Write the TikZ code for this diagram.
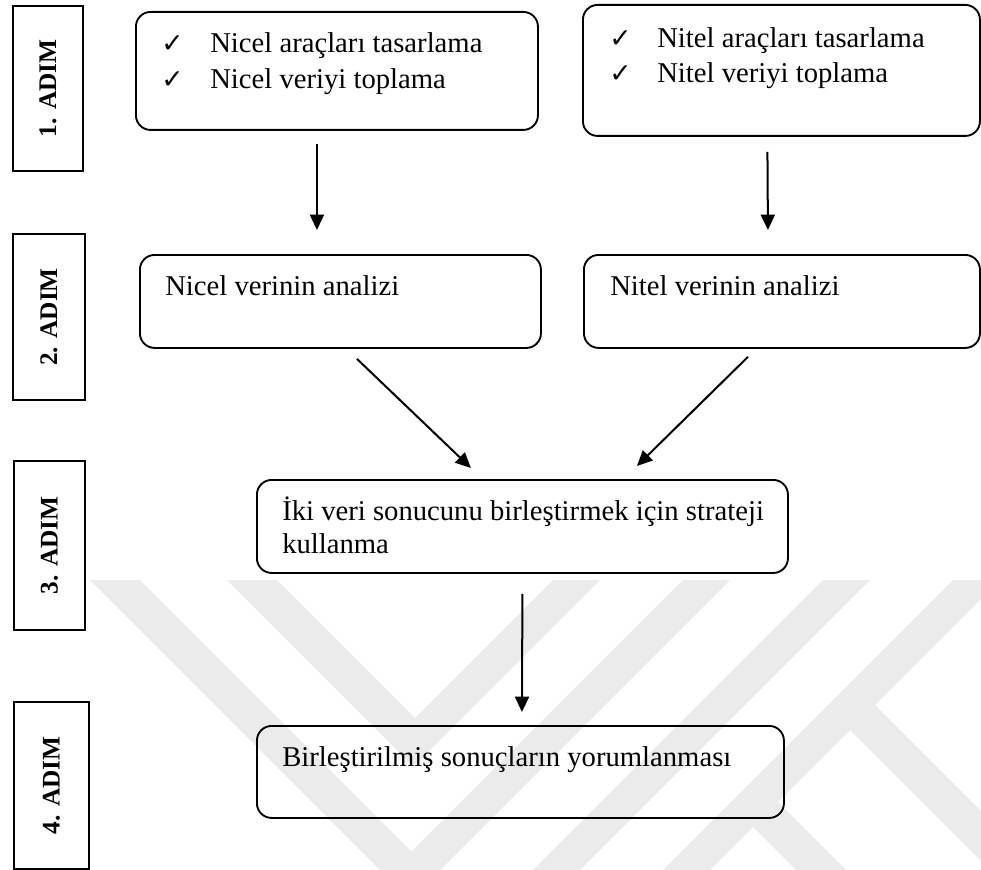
\documentclass[tikz,border=0pt]{standalone}
\usepackage{fontspec}
\setmainfont{Liberation Serif}
\newfontfamily\symfont{DejaVu Sans}
\usetikzlibrary{arrows.meta,calc}
\begin{document}
\begin{tikzpicture}[x=0.75pt,y=-0.75pt,
  box/.style={draw, line width=1.4pt, rounded corners=11pt, anchor=north west, inner sep=0pt},
  stepbox/.style={draw, line width=1.5pt, anchor=north west, inner sep=0pt},
  steplabel/.style={rotate=90, font=\fontsize{19}{21}\selectfont\bfseries, inner sep=0pt},
  txt/.style={anchor=base west, inner sep=0pt, font=\fontsize{21.5}{26}\selectfont},
  chk/.style={anchor=base west, inner sep=0pt, font=\symfont\fontsize{20}{22}\selectfont},
  arr/.style={line width=1.5pt, -{Triangle[length=11.5pt,width=10.5pt]}},
  wm/.style={fill=black!8, draw=none}]
\useasboundingbox (0,0) rectangle (981,870);
% watermark
\begin{scope}
  \clip (0,0) rectangle (981,870);
  \fill[wm] (90,580) -- (140,580) -- (411.5,851.5) -- (683,580) -- (730,580) -- (410,900) -- cycle;
  \fill[wm] (227,580) -- (277,580) -- (415,718) -- (553,580) -- (600,580) -- (413.5,766.5) -- cycle;
  \fill[wm] (823,580) -- (870,580) -- (470,980) -- (423,980) -- cycle;
  \fill[wm] (953,580) -- (1000,580) -- (600,980) -- (553,980) -- cycle;
  \fill[wm] (875,705) -- (850,730) -- (1100,980) -- (1150,980) -- cycle;
  \fill[wm] (778,802) -- (753,827) -- (906,980) -- (956,980) -- cycle;
\end{scope}
% step boxes
\node[stepbox, minimum width=52.5pt, minimum height=123.75pt] (s1) at (12,5) {};
\node[stepbox, minimum width=54pt, minimum height=124.5pt] (s2) at (12,233) {};
\node[stepbox, minimum width=53.25pt, minimum height=126.75pt] (s3) at (13,460) {};
\node[stepbox, minimum width=56.25pt, minimum height=125.25pt] (s4) at (13,701) {};
\node[steplabel] (l1) at (s1.center) {1. ADIM};
\node[steplabel] (l2) at (s2.center) {2. ADIM};
\node[steplabel] (l3) at (s3.center) {3. ADIM};
\node[steplabel] (l4) at (s4.center) {4. ADIM};
% main boxes
\node[box, minimum width=301.5pt, minimum height=88.5pt] (A) at (135,11) {};
\node[box, minimum width=297.75pt, minimum height=98.25pt] (B) at (582,4) {};
\node[box, minimum width=300.75pt, minimum height=69.75pt] (C) at (139,254) {};
\node[box, minimum width=297pt, minimum height=69.75pt] (D) at (583,254) {};
\node[box, minimum width=398.25pt, minimum height=69.75pt] (E) at (256,479) {};
\node[box, minimum width=395.25pt, minimum height=69pt] (F) at (256,725) {};
% texts
\node[chk] (ca1) at (161,53) {✓};
\node[txt] (ta1) at (210,53) {Nicel araçları tasarlama};
\node[chk] (ca2) at (161,89) {✓};
\node[txt] (ta2) at (210,89) {Nicel veriyi toplama};
\node[chk] (cb1) at (609,48) {✓};
\node[txt] (tb1) at (657,48) {Nitel araçları tasarlama};
\node[chk] (cb2) at (609,83) {✓};
\node[txt] (tb2) at (657,83) {Nitel veriyi toplama};
\node[txt] (tc) at (165,295) {Nicel verinin analizi};
\node[txt] (td) at (610,295) {Nitel verinin analizi};
\node[txt] (te1) at (282,520) {İki veri sonucunu birleştirmek için strateji};
\node[txt] (te2) at (282,553) {kullanma};
\node[txt] (tf) at (282,766) {Birleştirilmiş sonuçların yorumlanması};
% arrows
\draw[arr] ($(A.south)+(-20,13)$) -- ($(C.north)+(-23.5,-24)$);
\draw[arr] ($(B.south)+(-14,15)$) -- ($(D.north)+(-14,-24)$);
\draw[arr] ($(C.south)+(16.5,10)$) -- ($(E.north)+(-51.5,-11)$);
\draw[arr] ($(D.south)+(-34,8)$) -- ($(E.north)+(114.5,-13)$);
\draw[arr] ($(E.south)+(0,20)$) -- ($(F.north)+(1.5,-13)$);
\end{tikzpicture}
\end{document}
